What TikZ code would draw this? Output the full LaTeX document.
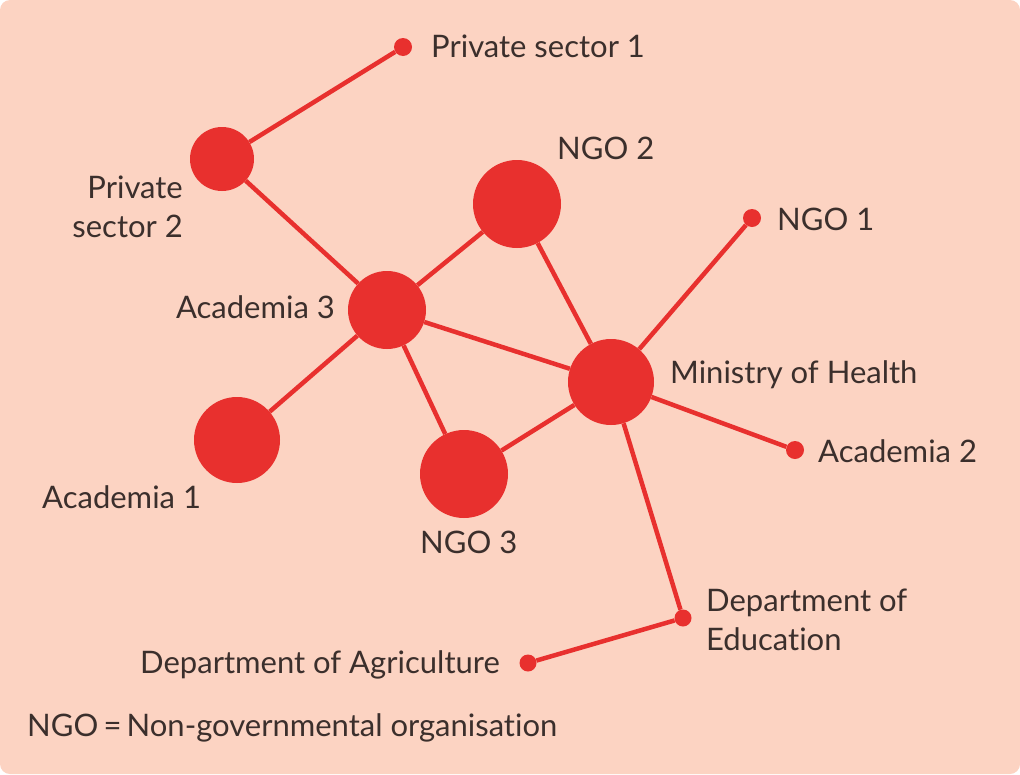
\documentclass[tikz,border=0pt]{standalone}
\usepackage{fontspec}
\usepackage{xcolor}
\setmainfont{Lato}[Ligatures=NoCommon]
\definecolor{peach}{HTML}{FCD3C2}
\definecolor{netred}{HTML}{E8302E}
\definecolor{ink}{HTML}{3B2F2C}

\begin{document}
\begin{tikzpicture}[x=1pt, y=-1pt,
    actor/.style={circle, fill=netred, inner sep=0pt, minimum size=#1},
    tie/.style={draw=netred, line width=4.5pt},
    actorname/.style={text=ink, inner sep=0pt, font=\fontsize{31}{39}\selectfont}]
    \fill[peach, rounded corners=10pt] (0,0) rectangle (1020,774);
    \useasboundingbox (0,0) rectangle (1020,774);

    % actors
    \node[actor=18pt] (ps1) at (403,47) {};
    \node[actor=64pt] (ps2) at (222,159) {};
    \node[actor=88pt] (ngo2) at (517,204) {};
    \node[actor=18pt] (ngo1) at (752,218) {};
    \node[actor=78pt] (ac3) at (387,310) {};
    \node[actor=86pt] (moh) at (611,382) {};
    \node[actor=86pt] (ac1) at (237,440) {};
    \node[actor=88pt] (ngo3) at (464,474) {};
    \node[actor=18pt] (ac2) at (795,450) {};
    \node[actor=17pt] (doe) at (683,618) {};
    \node[actor=17pt] (doa) at (528,663) {};

    % ties
    \draw[tie] (ps1) -- (ps2);
    \draw[tie] (ps2) -- (ac3);
    \draw[tie] (ac3) -- (ngo2);
    \draw[tie] (ngo2) -- (moh);
    \draw[tie] (ac3) -- (moh);
    \draw[tie] (ac3) -- (ac1);
    \draw[tie] (ac3) -- (ngo3);
    \draw[tie] (ngo3) -- (moh);
    \draw[tie] (moh) -- (ngo1);
    \draw[tie] (moh) -- (ac2);
    \draw[tie] (moh) -- (doe);
    \draw[tie] (doe) -- (doa);

    % names
    \node[actorname, anchor=base west] (tps1) at (431,57) {Private sector 1};
    \node[actorname, anchor=base east, align=right] (tps2) at (183,237) {Private\\sector 2};
    \node[actorname, anchor=base west] (tngo2) at (557,159) {NGO 2};
    \node[actorname, anchor=base west] (tngo1) at (777,230) {NGO 1};
    \node[actorname, anchor=base east] (tac3) at (335,318) {Academia 3};
    \node[actorname, anchor=base west] (tmoh) at (670,383) {Ministry of Health};
    \node[actorname, anchor=base west] (tac2) at (818,462) {Academia 2};
    \node[actorname, anchor=base west] (tac1) at (42,508) {Academia 1};
    \node[actorname, anchor=base west] (tngo3) at (420,553) {NGO 3};
    \node[actorname, anchor=base west, align=left] (tdoe) at (706,650) {Department of\\Education};
    \node[actorname, anchor=base east] (tdoa) at (500,673) {Department of Agriculture};
    \node[actorname, anchor=base west] (key) at (27,736) {NGO\,=\,Non-governmental organisation};
\end{tikzpicture}
\end{document}
